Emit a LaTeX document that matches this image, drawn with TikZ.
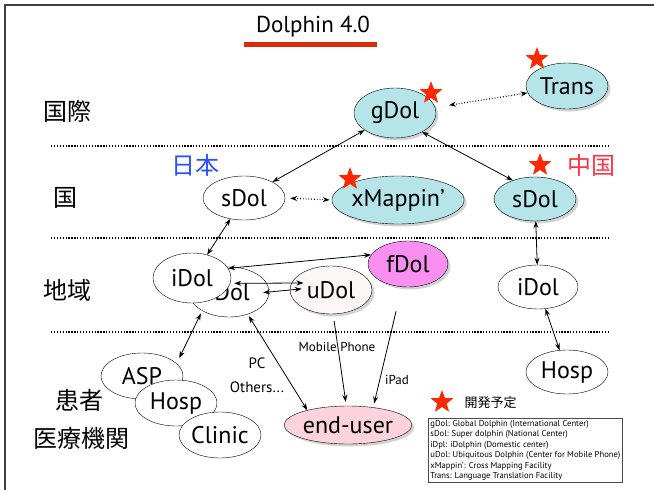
\documentclass[tikz,border=0pt]{standalone}
\usepackage{fontspec}
\setmainfont{PT Sans}
\newfontfamily\jfont{Noto Sans CJK JP}
\usetikzlibrary{shapes.geometric,arrows.meta,shadows}

\definecolor{dolcyan}{RGB}{181,228,233}
\definecolor{fdolpink}{RGB}{249,143,240}
\definecolor{userpink}{RGB}{252,210,220}
\definecolor{udolwhite}{RGB}{253,246,246}
\definecolor{starred}{RGB}{255,40,0}
\definecolor{barred}{RGB}{220,42,12}
\definecolor{jpblue}{RGB}{40,80,255}
\definecolor{cnred}{RGB}{255,50,70}

\tikzset{
  dol/.style={ellipse, draw, fill=white, inner sep=0pt, minimum width=82pt, minimum height=46pt, font=\fontsize{24}{24}\selectfont},
  shade dol/.style={dol, drop shadow={shadow xshift=2.5pt, shadow yshift=-2.5pt, opacity=0.35}},
  level/.style={font=\jfont\fontsize{24}{24}\selectfont},
  small/.style={font=\fontsize{13}{13}\selectfont},
  both/.style={{Stealth[length=7pt,width=5pt]}-{Stealth[length=7pt,width=5pt]}, thick},
  oneway/.style={-{Stealth[length=7pt,width=5pt]}, thick},
  dotboth/.style={both, dotted, very thick},
  sep/.style={line width=1.3pt, dash pattern=on 1.3pt off 1.6pt},
  redstar/.style={star, star points=5, star point ratio=2.4, fill=starred, draw=none, minimum size=24pt, inner sep=0pt}
}

\begin{document}
\begin{tikzpicture}[x=1pt,y=-1pt]
\useasboundingbox (0,0) rectangle (654,490);
\draw[black!75, line width=1.2pt] (5,490) -- (5,5) -- (654,5);

\node[font=\fontsize{23}{23}\selectfont] (title) at (313,27) {Dolphin 4.0};
\draw[barred, line width=5pt] (244,44.5) -- (377,44.5);

\draw[sep] (51,146) -- (610,146);
\draw[sep] (51,238) -- (610,238);
\draw[sep] (51,332) -- (610,332);

\node[level] (intl) at (67,111) {国際};
\node[level] (nation) at (65,198) {国};
\node[level] (region) at (67,290) {地域};
\node[level] (patient) at (80,400) {患者};
\node[level] (medical) at (82,438) {医療機関};
\node[level, text=jpblue] (japan) at (195,165) {日本};
\node[level, text=cnred] (china) at (591,165) {中国};

\node[shade dol, fill=dolcyan, minimum height=50pt] (gdol) at (395,113) {gDol};
\node[shade dol, fill=dolcyan] (trans) at (567,86) {Trans};
\node[dol, minimum height=44pt] (sdolj) at (244,198) {sDol};
\node[shade dol, fill=dolcyan, minimum width=130pt, minimum height=48pt] (xmap) at (398,200) {xMappin'};
\node[shade dol, fill=dolcyan, minimum height=44pt] (sdolc) at (535,199) {sDol};

\node[dol, minimum width=80pt, minimum height=50pt] (idolb) at (229,292) {iDol};
\node[dol, minimum width=78pt, minimum height=50pt] (idolf) at (192,278) {iDol};
\node[shade dol, fill=udolwhite, minimum height=48pt] (udol) at (331,290) {uDol};
\node[shade dol, fill=fdolpink, minimum width=80pt] (fdol) at (408,264) {fDol};
\node[dol, minimum width=80pt, minimum height=44pt] (idolc) at (538,287) {iDol};
\node[dol, minimum height=44pt] (hospc) at (567,372) {Hosp};

\node[dol] (asp) at (142,376) {ASP};
\node[dol] (hosp) at (176,403) {Hosp};
\node[dol] (clinic) at (220,435) {Clinic};
\node[shade dol, fill=userpink, minimum width=126pt, minimum height=38pt] (enduser) at (348,425) {end-user};

\node[redstar] (stargdol) at (431,93) {};
\node[redstar] (startrans) at (537,59) {};
\node[redstar] (starxmap) at (350,179) {};
\node[redstar] (starcn) at (540,165) {};

\draw[dotboth, shorten <=14pt] (gdol.8) -- (trans.190);
\draw[dotboth, shorten <=5pt, shorten >=2pt] (sdolj.east) -- (xmap.west);
\draw[both] (gdol) -- (sdolj);
\draw[both] (gdol.-35) -- (sdolc.140);
\draw[both] (sdolj) -- (idolf);
\draw[both] (sdolc) -- (idolc);
\draw[both] (idolc) -- (hospc);
\draw[both] (idolf.15) -- (fdol.166);
\draw[both, shorten <=4pt, shorten >=-12pt] (idolf.-8) -- (udol.170);
\draw[both, shorten <=-6pt, shorten >=-12pt] (idolb.east) -- (udol.west);
\draw[both, shorten <=3pt, shorten >=6pt] (idolb.215) -- (asp.20);
\draw[both, shorten <=2pt] (idolb.-50) -- (enduser.160);
\draw[oneway, shorten <=7pt, shorten >=4pt] (udol.-85) -- (enduser.95);
\draw[oneway, shorten <=25pt, shorten >=4pt] (fdol.-105) -- (enduser.35);

\node[small] (mobile) at (337,347) {Mobile Phone};
\node[small] (ipad) at (397,380) {iPad};
\node[font=\fontsize{15}{15}\selectfont] (pc) at (257,363) {PC};
\node[font=\fontsize{15}{15}\selectfont] (others) at (257,387) {Others...};

\node[redstar] (starkey) at (442,402) {};
\node[font=\jfont\fontsize{13}{13}\selectfont, anchor=west] (plan) at (461,403) {開発予定};
\node[draw, thick, black!70, text=black, align=left, anchor=north west, inner sep=2pt,
  font=\fontsize{8.6}{10.4}\selectfont] (legend) at (428,418)
  {gDol: Global Dolphin (International Center)\\
   sDol: Super dolphin (National Center)\\
   iDpl: iDolphin (Domestic center)\\
   uDol: Ubiquitous Dolphin (Center for Mobile Phone)\\
   xMappin': Cross Mapping Facility\\
   Trans: Language Translation Facility};
\end{tikzpicture}
\end{document}
